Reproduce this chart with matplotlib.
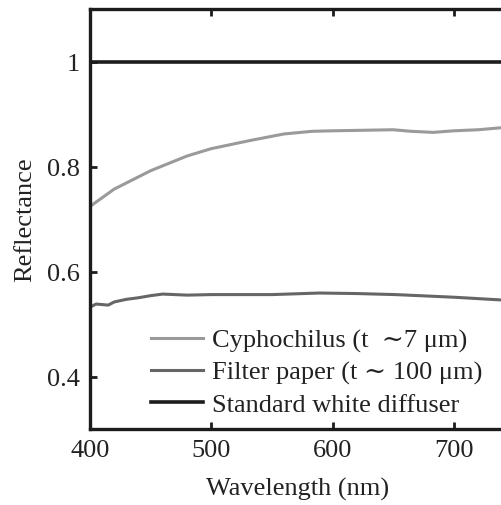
import numpy as np
import matplotlib
matplotlib.use('Agg')
import matplotlib.pyplot as plt

plt.rcParams['font.family'] = ['Liberation Serif', 'DejaVu Serif']

# datos
wl_cyp = [400, 420, 450, 480, 500, 533, 560, 583, 600, 625, 650, 665, 683, 700, 720, 745]
r_cyp = [0.724, 0.757, 0.792, 0.820, 0.834, 0.850, 0.862, 0.867, 0.868, 0.869, 0.870, 0.867, 0.865, 0.868, 0.870, 0.875]

wl_fil = [400, 405, 410, 415, 420, 430, 440, 450, 460, 480, 500, 550, 589, 620, 652, 700, 745]
r_fil = [0.532, 0.538, 0.537, 0.536, 0.542, 0.547, 0.550, 0.554, 0.557, 0.555, 0.556, 0.556, 0.559, 0.558, 0.556, 0.551, 0.545]

wl_std = [400, 745]
r_std = [1.0, 1.0]

labels = ['Cyphochilus (t  \u223c7 \u03bcm)',
          'Filter paper (t \u223c 100 \u03bcm)',
          'Standard white diffuser']
colores = ['#9a9a9a', '#666666', '#1c1c1c']

fs = 19

fig = plt.figure(figsize=(5.01, 5.06), dpi=100)
ax = fig.add_axes([90/501, 76/506, 1 - 90/501 + 0.01, 420/506])

ax.plot(wl_cyp, r_cyp, color=colores[0], lw=2.2, label=labels[0])
ax.plot(wl_fil, r_fil, color=colores[1], lw=2.2, label=labels[1])
ax.plot(wl_std, r_std, color=colores[2], lw=2.6, label=labels[2])

ax.set_xlim(400, 743)
ax.set_ylim(0.3, 1.1)
ax.set_xticks([400, 500, 600, 700])
ax.set_yticks([0.4, 0.6, 0.8, 1.0])
ax.set_yticklabels(['0.4', '0.6', '0.8', '1'])
ax.tick_params(direction='in', top=True, right=False, length=5, width=2,
               labelsize=fs, pad=7, color='#1c1c1c', labelcolor='#222222')
for s in ['left', 'top', 'bottom']:
    ax.spines[s].set_linewidth(2.4)
    ax.spines[s].set_color('#1c1c1c')
ax.spines['right'].set_visible(False)

ax.set_xlabel('Wavelength (nm)', fontsize=fs, labelpad=12, color='#222222')
ax.set_ylabel('Reflectance', fontsize=fs, labelpad=8, color='#222222')

leg = ax.legend(loc='lower right', frameon=False, fontsize=fs, handlelength=1.95,
                handletextpad=0.35, labelspacing=0.31, borderaxespad=0.0,
                bbox_to_anchor=(0.968, 0.006))
for t in leg.get_texts():
    t.set_color('#222222')

fig.savefig('out.png', dpi=100)
